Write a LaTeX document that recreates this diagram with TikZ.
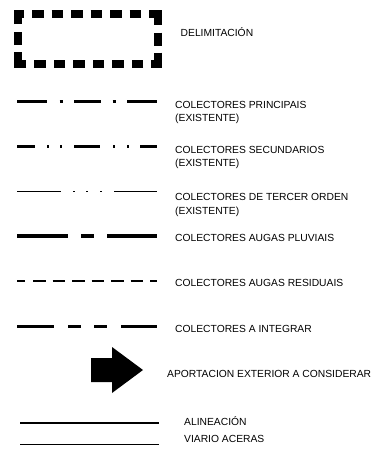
\documentclass[tikz,border=0pt]{standalone}
\usepackage{fontspec}
\setmainfont{Liberation Sans}
\begin{document}
\begin{tikzpicture}[x=1pt,y=-1pt,
  lbl/.style={anchor=base west,inner sep=0pt,font=\fontsize{10.3}{12}\selectfont},
  sample/.style={line cap=butt,draw=black}]
\useasboundingbox (0,0) rectangle (382,450);
% DELIMITACION
\coordinate (d1) at (32,14);
\coordinate (d2) at (157.5,14);
\coordinate (d3) at (157.5,63.5);
\coordinate (d4) at (17.5,63.5);
\coordinate (d5) at (17.5,14);
\draw[sample,line width=8pt,miter limit=10,
  dash pattern=on 11.5 off 8 on 11.5 off 8 on 11.5 off 8 on 11.5 off 8 on 11.5 off 8 on 11.5 off 8
  on 19 off 8 on 13 off 7 on 17.5 off 8
  on 11.5 off 8 on 11.5 off 8 on 11.5 off 8 on 11.5 off 8 on 11.5 off 8 on 11.5 off 8
  on 20 off 7 on 13 off 8 on 16.5 off 8]
  (d1) -- (d2) -- (d3) -- (d4) -- (d5) -- cycle;
\node[lbl] (t0) at (180.5,36.7) {DELIMITACIÓN};
% principais
\coordinate (a1) at (17,101.7); \coordinate (b1) at (157,101.7);
\draw[sample,line width=3.5pt,dash pattern=on 30 off 12.5 on 3 off 11.5 on 27 off 11.5 on 3 off 11.5 on 30 off 20] (a1) -- (b1);
\node[lbl] (t1) at (175,108.7) {COLECTORES PRINCIPAIS};
\node[lbl] (t1b) at (175,121.7) {(EXISTENTE)};
% secundarios
\coordinate (a2) at (17,146.7); \coordinate (b2) at (157,146.7);
\draw[sample,line width=2.5pt,dash pattern=on 18 off 12 on 2 off 11 on 2 off 12 on 26 off 13 on 2 off 12 on 2 off 11 on 17 off 20] (a2) -- (b2);
\node[lbl] (t2) at (175,153.7) {COLECTORES SECUNDARIOS};
\node[lbl] (t2b) at (175,166.7) {(EXISTENTE)};
% tercer orden
\coordinate (a3) at (17,191.7); \coordinate (b3) at (157,191.7);
\draw[sample,line width=1.5pt,dash pattern=on 44 off 12.25 on 1.5 off 11.5 on 1.5 off 12.5 on 1.5 off 12.25 on 43 off 20] (a3) -- (b3);
\node[lbl] (t3) at (175,200.7) {COLECTORES DE TERCER ORDEN};
\node[lbl] (t3b) at (175,214) {(EXISTENTE)};
% pluviais
\coordinate (a4) at (17,235.7); \coordinate (b4) at (157,235.7);
\draw[sample,line width=4pt,dash pattern=on 51 off 13 on 13 off 13 on 50 off 20] (a4) -- (b4);
\node[lbl] (t4) at (175,241.7) {COLECTORES AUGAS PLUVIAIS};
% residuais
\coordinate (a5) at (17,281); \coordinate (b5) at (157,281);
\draw[sample,line width=2pt,dash pattern=on 8 off 8 on 12.5 off 7 on 12.5 off 7 on 12.5 off 7 on 12.5 off 7 on 12.5 off 7 on 12.5 off 7 on 7 off 20] (a5) -- (b5);
\node[lbl] (t5) at (175,286.7) {COLECTORES AUGAS RESIDUAIS};
% a integrar
\coordinate (a6) at (17,326); \coordinate (b6) at (157,326);
\draw[sample,line width=3pt,dash pattern=on 37 off 14 on 13 off 13 on 13 off 14 on 36 off 20] (a6) -- (b6);
\node[lbl] (t6) at (175,332.7) {COLECTORES A INTEGRAR};
% arrow
\fill[black] (91,358) -- (112,358) -- (112,347) -- (143,370) -- (112,393) -- (112,382) -- (91,382) -- cycle;
\node[lbl] (t7) at (167,377.7) {APORTACION EXTERIOR A CONSIDERAR};
% alineacion / viario
\coordinate (a8) at (20,422.7); \coordinate (b8) at (159,422.7);
\draw[sample,line width=2pt] (a8) -- (b8);
\node[lbl] (t8) at (184,425.4) {ALINEACIÓN};
\coordinate (a9) at (20,444.5); \coordinate (b9) at (159,444.5);
\draw[sample,line width=1.2pt] (a9) -- (b9);
\node[lbl] (t9) at (184,442.7) {VIARIO ACERAS};
\end{tikzpicture}
\end{document}
